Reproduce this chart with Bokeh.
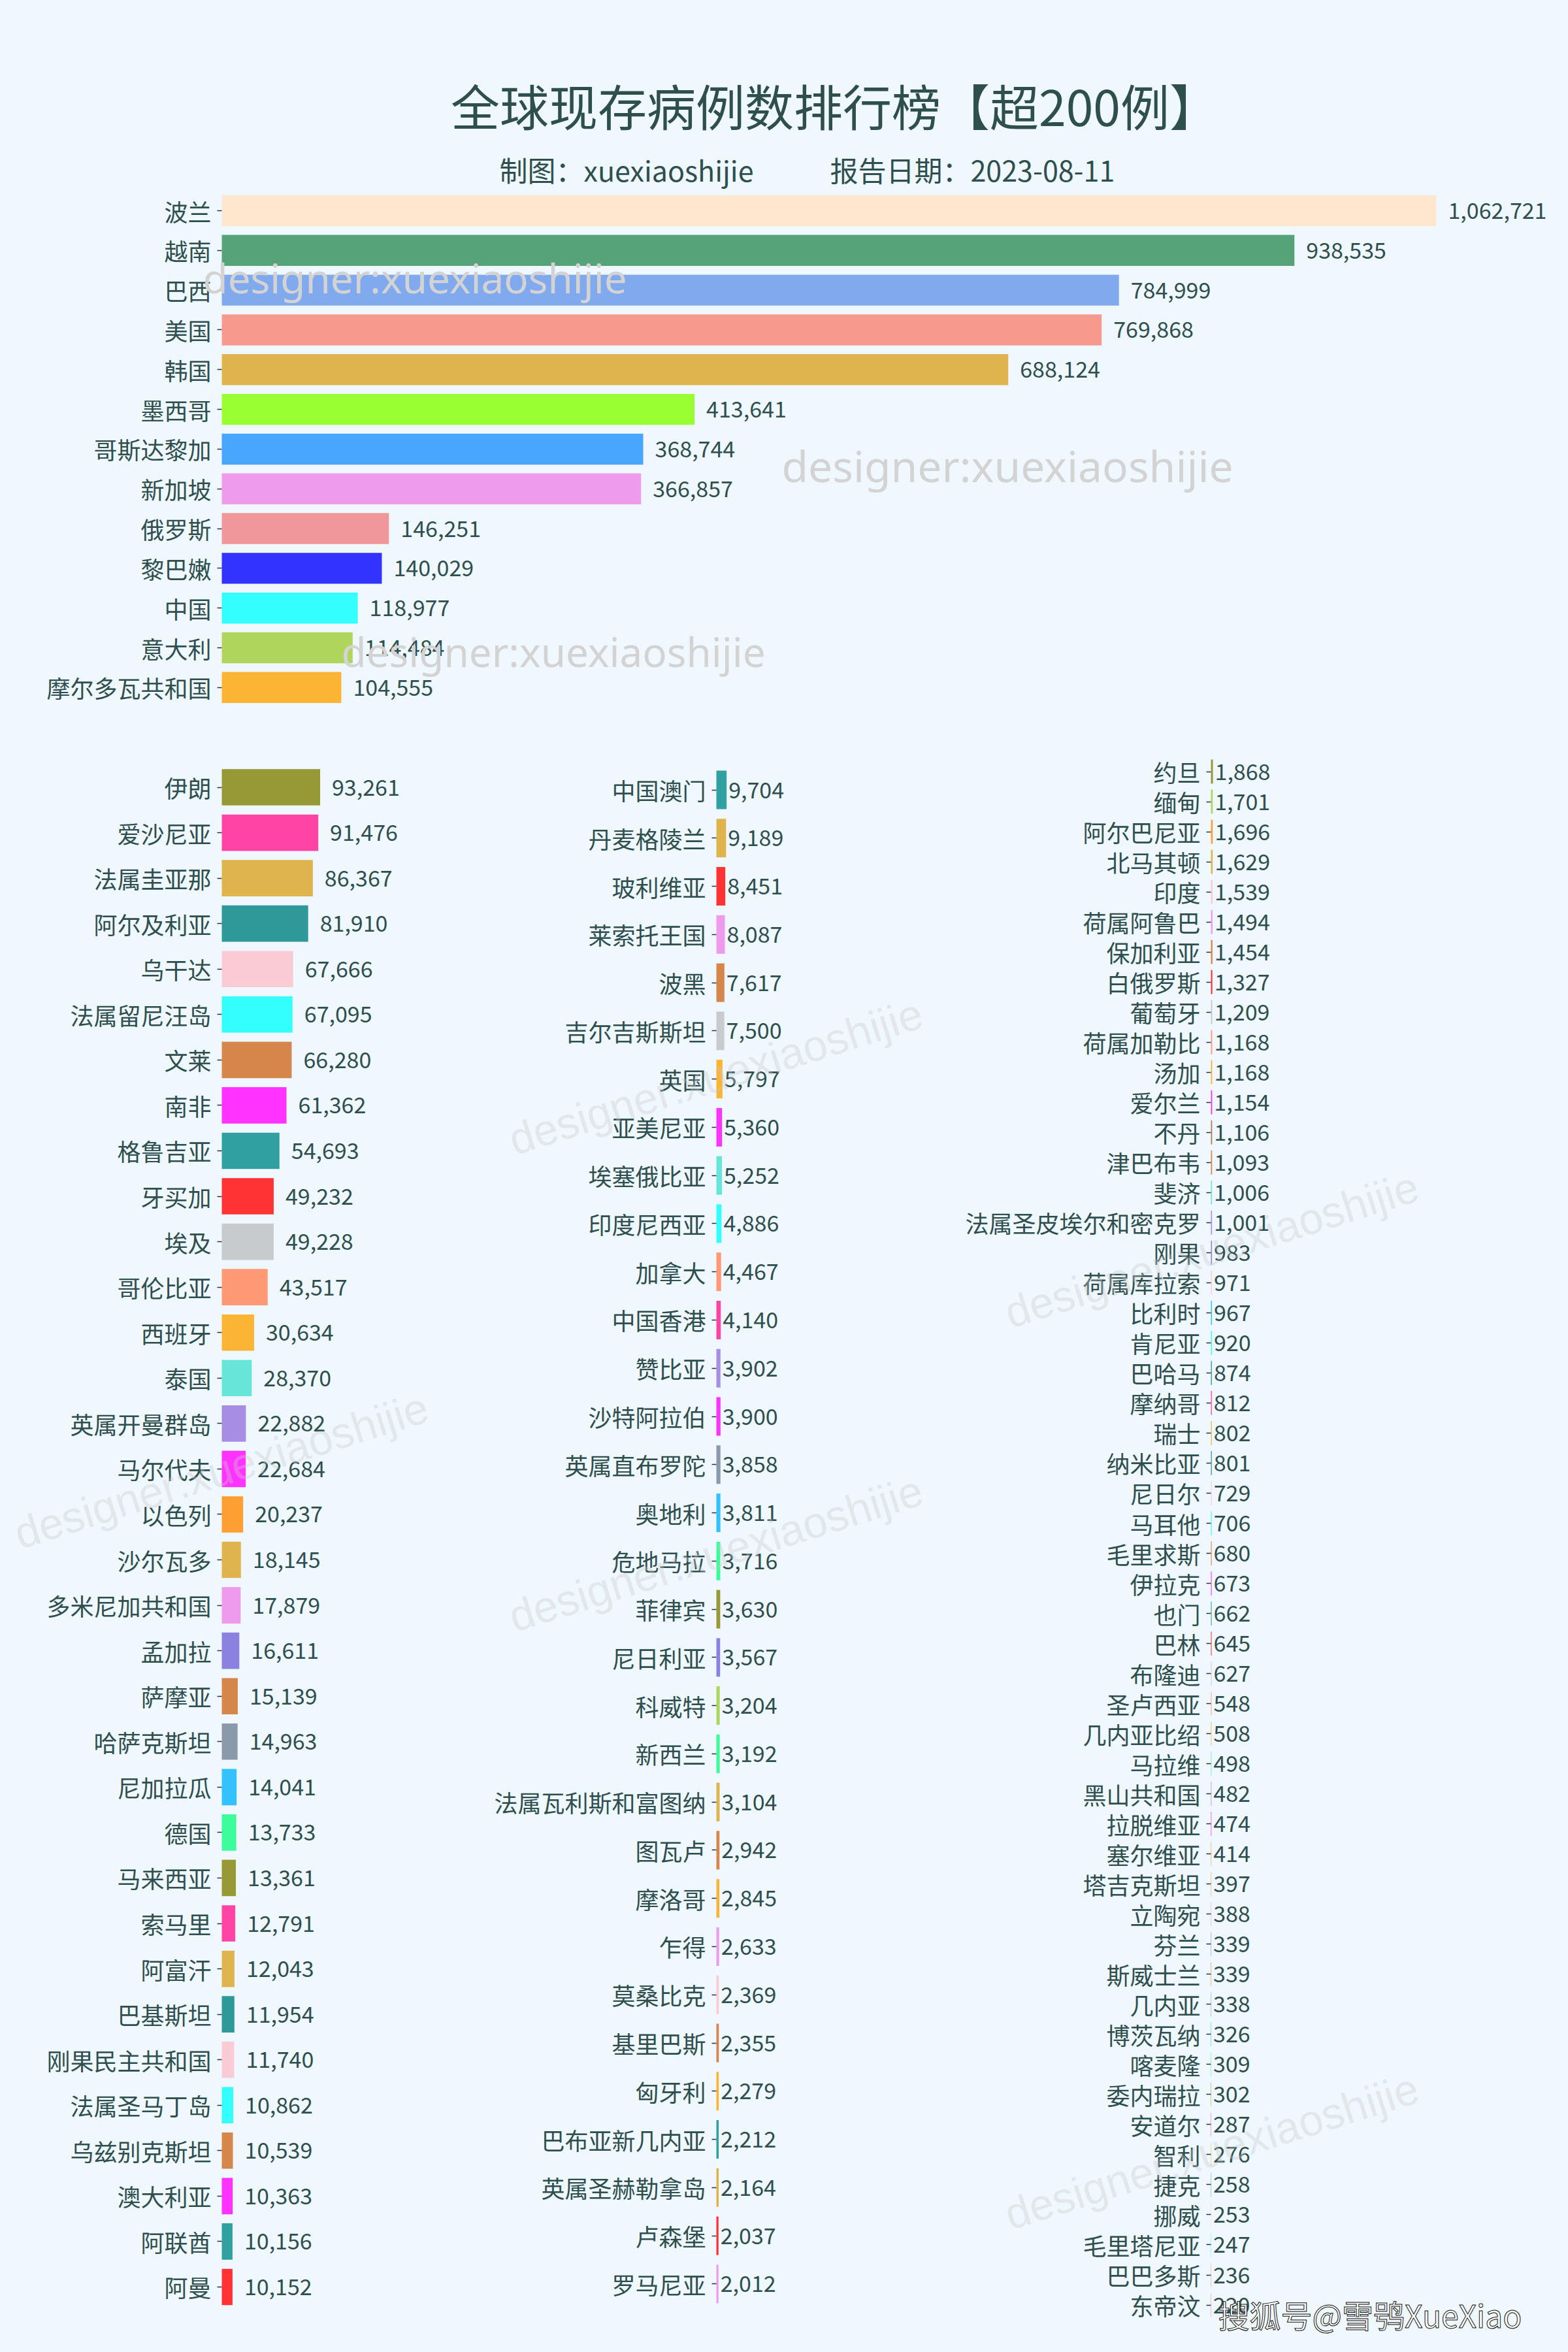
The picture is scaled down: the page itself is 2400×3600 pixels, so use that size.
import math
from bokeh.plotting import figure
from bokeh.models import Range1d, FixedTicker, ColumnDataSource, Label
from bokeh.layouts import column, row
from bokeh.embed import file_html
from bokeh.resources import INLINE
from bokeh.core.properties import value

BG = "#f0f8ff"
TXT = "#2f4f4f"
CJK = "Noto Sans CJK SC"

TITLE = "全球现存病例数排行榜【超200例】"
SUB_LEFT = "制图：xuexiaoshijie"
SUB_RIGHT = "报告日期：2023-08-11"
WATERMARK = "designer:xuexiaoshijie"
SOHU = "搜狐号@雪鸮XueXiao"

top_names = ["波兰", "越南", "巴西", "美国", "韩国", "墨西哥", "哥斯达黎加", "新加坡", "俄罗斯",
             "黎巴嫩", "中国", "意大利", "摩尔多瓦共和国"]
top_values = [1062721, 938535, 784999, 769868, 688124, 413641, 368744, 366857, 146251,
              140029, 118977, 114484, 104555]
top_colors = ["#fde8cf", "#56a37a", "#81a9ee", "#f7998d", "#dfb44d", "#99ff33", "#48a6ff",
              "#ee9bee", "#f09899", "#3333ff", "#33ffff", "#afd55c", "#fcb434"]

left_names = ["伊朗", "爱沙尼亚", "法属圭亚那", "阿尔及利亚", "乌干达", "法属留尼汪岛", "文莱", "南非",
              "格鲁吉亚", "牙买加", "埃及", "哥伦比亚", "西班牙", "泰国", "英属开曼群岛", "马尔代夫",
              "以色列", "沙尔瓦多", "多米尼加共和国", "孟加拉", "萨摩亚", "哈萨克斯坦", "尼加拉瓜", "德国",
              "马来西亚", "索马里", "阿富汗", "巴基斯坦", "刚果民主共和国", "法属圣马丁岛", "乌兹别克斯坦",
              "澳大利亚", "阿联酋", "阿曼"]
left_values = [93261, 91476, 86367, 81910, 67666, 67095, 66280, 61362, 54693, 49232, 49228, 43517,
               30634, 28370, 22882, 22684, 20237, 18145, 17879, 16611, 15139, 14963, 14041, 13733,
               13361, 12791, 12043, 11954, 11740, 10862, 10539, 10363, 10156, 10152]
left_colors = ["#979935", "#ff44a5", "#dfb44d", "#2f9898", "#f9cbd5", "#33ffff", "#d6854b", "#ff33ff",
               "#30a0a0", "#ff3333", "#c8cbcd", "#fe9875", "#fbb434", "#66e5d8", "#a78de3", "#ff33ff",
               "#fd9f33", "#dfb44d", "#ee9bee", "#8b81de", "#d6854b", "#8a9aab", "#33c2ff", "#3cfc9c",
               "#979935", "#ff44a5", "#dfb44d", "#2f9898", "#f9cbd5", "#33ffff", "#d6854b", "#ff33ff",
               "#30a0a0", "#ff3333"]

mid_names = ["中国澳门", "丹麦格陵兰", "玻利维亚", "莱索托王国", "波黑", "吉尔吉斯斯坦", "英国", "亚美尼亚",
             "埃塞俄比亚", "印度尼西亚", "加拿大", "中国香港", "赞比亚", "沙特阿拉伯", "英属直布罗陀", "奥地利",
             "危地马拉", "菲律宾", "尼日利亚", "科威特", "新西兰", "法属瓦利斯和富图纳", "图瓦卢", "摩洛哥",
             "乍得", "莫桑比克", "基里巴斯", "匈牙利", "巴布亚新几内亚", "英属圣赫勒拿岛", "卢森堡", "罗马尼亚"]
mid_values = [9704, 9189, 8451, 8087, 7617, 7500, 5797, 5360, 5252, 4886, 4467, 4140, 3902, 3900,
              3858, 3811, 3716, 3630, 3567, 3204, 3192, 3104, 2942, 2845, 2633, 2369, 2355, 2279,
              2212, 2164, 2037, 2012]
mid_colors = ["#30a0a0", "#dfb44d", "#ff3333", "#ee9bee", "#d6854b", "#c8cbcd", "#fbb434", "#ff33ff",
              "#66e5d8", "#33ffff", "#fe9875", "#ff44a5", "#a78de3", "#ff33ff", "#8a9aab", "#33c2ff",
              "#3cfc9c", "#979935", "#8b81de", "#afd55c", "#3cfc9c", "#dfb44d", "#d6854b", "#fbb434",
              "#ee9bee", "#f9cbd5", "#d6854b", "#fbb434", "#30a0a0", "#dfb44d", "#ff3333", "#ee9bee"]

right_names = ["约旦", "缅甸", "阿尔巴尼亚", "北马其顿", "印度", "荷属阿鲁巴", "保加利亚", "白俄罗斯", "葡萄牙",
               "荷属加勒比", "汤加", "爱尔兰", "不丹", "津巴布韦", "斐济", "法属圣皮埃尔和密克罗", "刚果",
               "荷属库拉索", "比利时", "肯尼亚", "巴哈马", "摩纳哥", "瑞士", "纳米比亚", "尼日尔", "马耳他",
               "毛里求斯", "伊拉克", "也门", "巴林", "布隆迪", "圣卢西亚", "几内亚比绍", "马拉维", "黑山共和国",
               "拉脱维亚", "塞尔维亚", "塔吉克斯坦", "立陶宛", "芬兰", "斯威士兰", "几内亚", "博茨瓦纳", "喀麦隆",
               "委内瑞拉", "安道尔", "智利", "捷克", "挪威", "毛里塔尼亚", "巴巴多斯", "东帝汶"]
right_values = [1868, 1701, 1696, 1629, 1539, 1494, 1454, 1327, 1209, 1168, 1168, 1154, 1106, 1093,
                1006, 1001, 983, 971, 967, 920, 874, 812, 802, 801, 729, 706, 680, 673, 662, 645, 627,
                548, 508, 498, 482, 474, 414, 397, 388, 339, 339, 338, 326, 309, 302, 287, 276, 258,
                253, 247, 236, 220]
right_colors = ["#979935", "#afd55c", "#fd9f33", "#dfb44d", "#f9cbd5", "#ee9bee", "#d6854b", "#ff3333",
                "#c8cbcd", "#fe9875", "#fbb434", "#ff33ff", "#b07a5a", "#d6854b", "#66e5d8", "#a78de3",
                "#8b81de", "#f9cbd5", "#33c2ff", "#33ffff", "#30a0a0",
                "#ff44a5", "#dfb44d", "#2f9898", "#f9cbd5", "#33ffff", "#d6854b", "#ff33ff", "#30a0a0",
                "#ff3333", "#c8cbcd", "#fe9875", "#fbb434", "#66e5d8", "#a78de3", "#ff33ff", "#fd9f33",
                "#dfb44d", "#ee9bee", "#8b81de", "#d6854b", "#8a9aab", "#33c2ff", "#3cfc9c", "#979935",
                "#ff44a5", "#dfb44d", "#2f9898", "#f9cbd5", "#33ffff", "#d6854b", "#ff33ff"]


class Panel:
    """A figure whose frame fills the whole canvas; geometry in page pixels
    (reference coordinates, including the 8px page margin)."""

    def __init__(self, names, values, colors, fig_left, fig_top, width, height,
                 bar0_px, px_per_unit, c0, pitch, bar_h=0.8, label_off=3,
                 label_font=36, value_font=34):
        self.bar0 = bar0_px
        self.ppu = px_per_unit
        self.c0, self.pitch = c0, pitch
        n = len(names)
        x0 = self.xd(fig_left)
        x1 = self.xd(fig_left + width)
        y_top = self.yd(fig_top)
        y_bot = self.yd(fig_top + height)
        p = figure(width=width, height=height, x_range=Range1d(x0, x1),
                   y_range=Range1d(y_bot, y_top), output_backend="svg",
                   toolbar_location=None, tools="", min_border=0,
                   min_border_left=0, min_border_right=0, min_border_top=0, min_border_bottom=0,
                   background_fill_color=BG, border_fill_color=BG, outline_line_color=None)
        p.title.visible = False
        p.xaxis.visible = False
        p.xgrid.visible = False
        p.ygrid.visible = False
        ax = p.yaxis[0]
        ax.fixed_location = 0
        ax.ticker = FixedTicker(ticks=list(range(n)))
        ax.major_label_overrides = {i: nm for i, nm in enumerate(names)}
        ax.axis_line_color = None
        ax.minor_tick_line_color = None
        ax.major_tick_in = 0
        ax.major_tick_out = 7
        ax.major_tick_line_color = "#333333"
        ax.major_tick_line_width = 1.5
        ax.major_label_standoff = 9
        ax.major_label_text_font = CJK
        ax.major_label_text_font_size = f"{label_font}px"
        ax.major_label_text_color = TXT
        src = ColumnDataSource(dict(y=list(range(n)), v=values, c=colors,
                                    t=[f"{v:,}" for v in values]))
        p.hbar(y="y", left=0, right="v", height=bar_h, fill_color="c", line_color=None, source=src)
        p.text(x="v", y="y", text="t", x_offset=label_off, text_align="left",
               text_baseline="middle", text_font=value(CJK), text_font_size=f"{value_font}px",
               text_color=TXT, source=src)
        self.p = p

    def xd(self, px):
        return (px - self.bar0) / self.ppu

    def yd(self, py):
        return (py - self.c0) / self.pitch

    def label(self, text, px, py, **kw):
        lab = Label(x=self.xd(px), y=self.yd(py), text=text, **kw)
        self.p.add_layout(lab)
        return lab


TOP_PPU = 1859 / max(top_values)
LOW_PPU = 150.5 / max(left_values)

top = Panel(top_names, top_values, top_colors, 8, 8, 2384, 1112, 347, TOP_PPU,
            c0=330.0, pitch=60.82, bar_h=0.78, label_off=18)
left = Panel(left_names, left_values, left_colors, 8, 1120, 740, 2472, 347, LOW_PPU,
             c0=1212.5, pitch=69.56, label_off=18)
mid = Panel(mid_names, mid_values, mid_colors, 748, 1120, 718, 2472, 1104, LOW_PPU,
            c0=1216.5, pitch=73.77, label_off=3)
right = Panel(right_names, right_values, right_colors, 1466, 1120, 926, 2472, 1861, LOW_PPU,
              c0=1188.5, pitch=46.02, label_off=3)

# titles
top.label(TITLE, 1285, 168, text_align="center", text_baseline="middle", text_font=CJK,
          text_font_size="75px", text_color=TXT)
top.label(SUB_LEFT, 772, 266, text_align="left", text_baseline="middle", text_font=CJK,
          text_font_size="43px", text_color=TXT)
top.label(SUB_RIGHT, 1278, 266, text_align="left", text_baseline="middle", text_font=CJK,
          text_font_size="43px", text_color=TXT)

# top watermarks
for (px, py, fs) in [(318, 432, 62), (1204, 719, 66), (530, 1004, 62)]:
    top.label(WATERMARK, px, py, text_align="left", text_baseline="alphabetic", text_font="Noto Sans",
              text_font_size=f"{fs}px", text_color="#d3d3d3")

# rotated watermarks in lower panels
ang = math.radians(17.4)
for pan, pts in [(left, [(346, 2258)]), (mid, [(1103, 1655), (1103, 2385)]),
                 (right, [(1862, 1920), (1862, 3300)])]:
    for (px, py) in pts:
        pan.label(WATERMARK, px, py, angle=ang, text_align="center", text_baseline="middle",
                  text_font="Liberation Sans", text_font_size="67px", text_color="#c8c8c8",
                  text_alpha=0.35)

# sohu mark
try:
    right.label(SOHU, 1872, 3549, text_align="left", text_baseline="middle", text_font=CJK,
                text_font_size="48px", text_color="white", text_outline_color="#111111")
except Exception:
    right.label(SOHU, 1872, 3549, text_align="left", text_baseline="middle", text_font=CJK,
                text_font_size="48px", text_color="white")

layout = column(top.p, row(left.p, mid.p, right.p))
html = file_html(layout, INLINE)
html = html.replace("</head>",
                    "<style>html, body { background-color: #f0f8ff; }</style></head>", 1)
open("out.html", "w").write(html)
